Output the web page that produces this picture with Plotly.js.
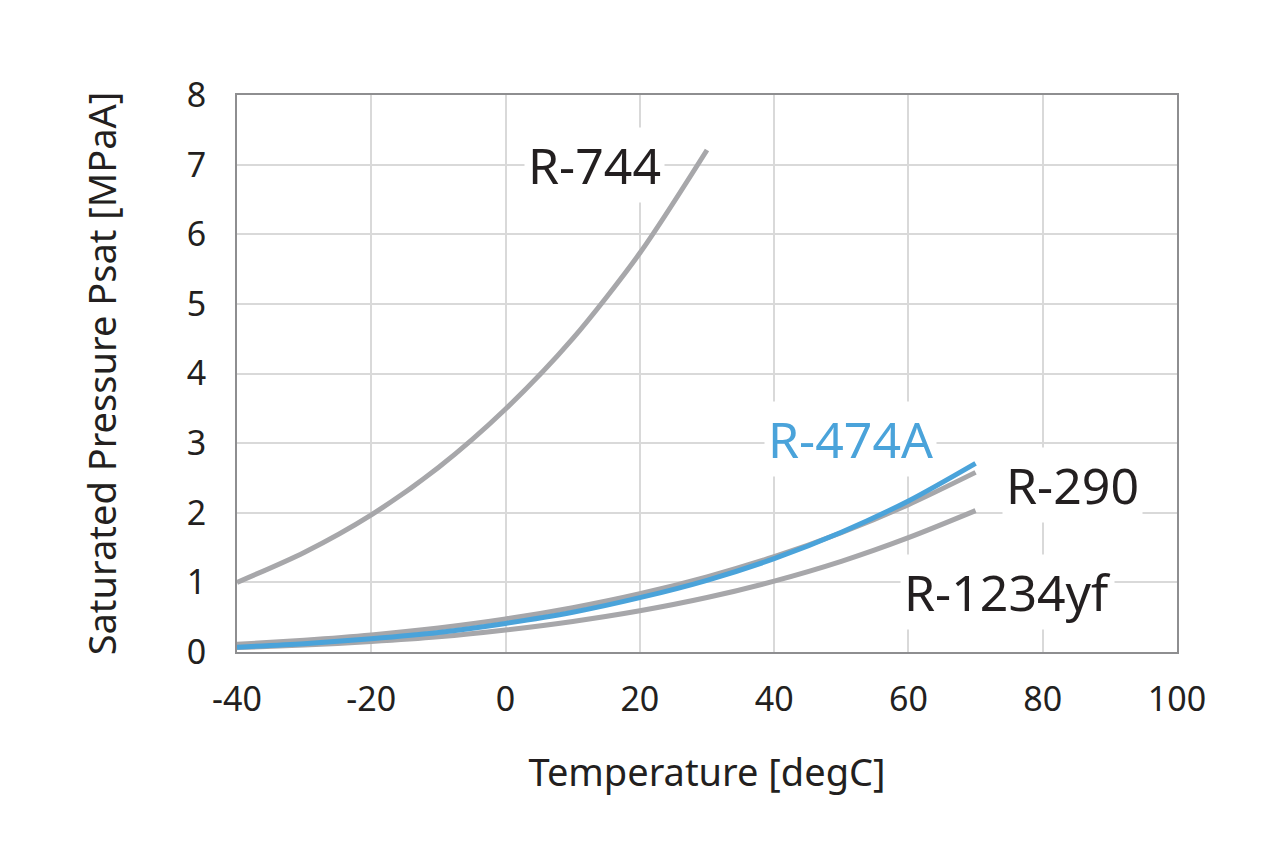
<!DOCTYPE html>
<html>
<head>
<meta charset="utf-8">
<script src="https://cdn.plot.ly/plotly-3.0.1.min.js"></script>
<style>
  html, body { margin: 0; padding: 0; background: #fff; }
  #chart { width: 1279px; height: 860px; }
</style>
</head>
<body>
<div id="chart"></div>
<script>
'use strict';

// temperatures [degC]
const tempCO2 = [-40, -30, -20, -10, 0, 10, 20, 30];
const tempHFO = [-40, -30, -20, -10, 0, 10, 20, 30, 40, 50, 60, 70];

// saturated pressure [MPaA]
const r744 = [1.00, 1.43, 1.97, 2.65, 3.49, 4.50, 5.73, 7.21];
const r290 = [0.11, 0.17, 0.245, 0.345, 0.474, 0.636, 0.836, 1.079, 1.369, 1.713, 2.116, 2.58];
const r1234yf = [0.063, 0.099, 0.150, 0.218, 0.316, 0.439, 0.592, 0.782, 1.018, 1.302, 1.642, 2.03];
const r474a = [0.07, 0.12, 0.19, 0.28, 0.41, 0.57, 0.78, 1.03, 1.34, 1.72, 2.17, 2.71];

// x tick labels use a plain hyphen like the original
const xTicks = [-40, -20, 0, 20, 40, 60, 80, 100];
const xTickText = ['-40', '-20', '0', '20', '40', '60', '80', '100'];

const GRAY = '#a7a7aa';
const BLUE = '#4aa3da';
const TEXT = '#231f20';
const FONT = '"Noto Sans", "Open Sans", sans-serif';

function line(x, y, color) {
  return {
    x: x,
    y: y,
    type: 'scatter',
    mode: 'lines',
    line: {color: color, width: 5, shape: 'spline', smoothing: 0.8},
    hoverinfo: 'skip',
    showlegend: false
  };
}

const data = [
  line(tempCO2, r744, GRAY),
  line(tempHFO, r1234yf, GRAY),
  line(tempHFO, r290, GRAY),
  line(tempHFO, r474a, BLUE)
];

function label(text, x, y, color) {
  return {
    text: text,
    x: x,
    y: y,
    xref: 'x',
    yref: 'y',
    showarrow: false,
    bgcolor: '#ffffff',
    borderpad: 3,
    font: {family: FONT, size: 50, color: color}
  };
}

const axisBase = {
  showgrid: true,
  gridcolor: '#d9d9d9',
  gridwidth: 2,
  zeroline: false,
  showline: true,
  linecolor: '#8e8e90',
  linewidth: 2,
  mirror: true,
  ticks: '',
  tickfont: {family: FONT, size: 34, color: TEXT}
};

const layout = {
  width: 1279,
  height: 860,
  margin: {l: 237, r: 102, t: 95, b: 208},
  paper_bgcolor: '#ffffff',
  plot_bgcolor: '#ffffff',
  showlegend: false,
  xaxis: Object.assign({}, axisBase, {
    range: [-40, 100],
    tickvals: xTicks,
    ticktext: xTickText,
    ticklabelstandoff: 16,
    title: {text: 'Temperature [degC]', font: {family: FONT, size: 38, color: TEXT}, standoff: 40}
  }),
  yaxis: Object.assign({}, axisBase, {
    range: [0, 8],
    dtick: 1,
    ticklabelstandoff: 22,
    title: {text: 'Saturated Pressure Psat [MPaA]', font: {family: FONT, size: 38, color: TEXT}, standoff: 58}
  }),
  annotations: [
    label('R-744', 13.2, 7.0, TEXT),
    label('R-474A', 51.4, 3.06, BLUE),
    label('R-290', 84.5, 2.4, TEXT),
    label('R-1234yf', 74.7, 0.86, TEXT)
  ]
};

Plotly.newPlot('chart', data, layout, {staticPlot: true, displayModeBar: false});
</script>
</body>
</html>
